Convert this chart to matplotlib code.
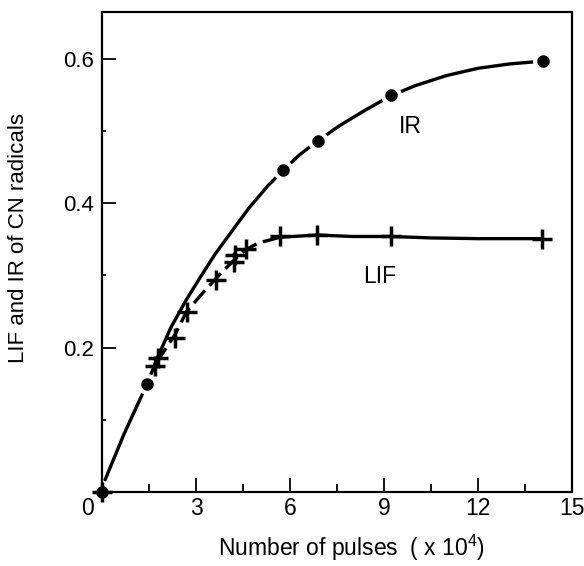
import matplotlib
matplotlib.use("Agg")
import matplotlib.pyplot as plt
import matplotlib.transforms as mtransforms
from matplotlib.ticker import MultipleLocator

plt.rcParams['font.family'] = ['Liberation Sans', 'DejaVu Sans']
plt.rcParams['mathtext.fontset'] = 'custom'
plt.rcParams['mathtext.rm'] = 'Liberation Sans'
plt.rcParams['mathtext.it'] = 'Liberation Sans'

# IR measured points (dots)
ir_x = [0.0, 1.43, 5.79, 6.90, 9.22, 14.09]
ir_y = [0.0, 0.149, 0.446, 0.486, 0.550, 0.597]
# IR fitted curve
ir_fit_x = [0.1, 0.7, 1.43, 1.79, 2.2, 2.7, 3.13, 3.6, 4.19, 4.7, 5.31, 5.79, 6.3, 6.9, 7.6, 8.4, 9.22, 10.0, 11.0, 12.0, 13.0, 14.09]
ir_fit_y = [0.017, 0.08, 0.149, 0.188, 0.228, 0.267, 0.297, 0.329, 0.364, 0.394, 0.425, 0.446, 0.467, 0.487, 0.508, 0.529, 0.549, 0.563, 0.577, 0.587, 0.593, 0.597]

# LIF measured points (crosses)
lif_x = [0.0, 1.70, 1.80, 2.33, 2.70, 3.64, 4.20, 4.26, 4.59, 5.68, 6.87, 9.22, 14.03]
lif_y = [0.0, 0.175, 0.186, 0.213, 0.250, 0.294, 0.318, 0.328, 0.336, 0.354, 0.356, 0.354, 0.351]
# LIF fitted curve
lif_fit_x = [1.75, 2.33, 2.70, 3.2, 3.64, 4.0, 4.26, 4.59, 5.0, 5.68, 6.87, 8.0, 9.22, 10.5, 12.0, 14.03]
lif_fit_y = [0.180, 0.218, 0.250, 0.275, 0.296, 0.312, 0.323, 0.336, 0.345, 0.353, 0.356, 0.354, 0.354, 0.352, 0.351, 0.351]

xticks = [0, 3, 6, 9, 12, 15]
xticklabels = ['0', '3', '6', '9', '12', '15']
yticks = [0.2, 0.4, 0.6]

fig = plt.figure(figsize=(5.84, 5.66), dpi=100)
ax = fig.add_axes([102/584, 1 - 492/566, 470/584, 480/566])

ax.plot(ir_fit_x, ir_fit_y, color='black', lw=2.4, zorder=2, solid_capstyle='round')
ax.plot(lif_fit_x[:10], lif_fit_y[:10], color='black', lw=2.4, dashes=(5, 2), zorder=2)
ax.plot(lif_fit_x[9:], lif_fit_y[9:], color='black', lw=2.4, zorder=2)

# white halos to make gaps around markers (skip origin point)
ax.plot(ir_x[1:], ir_y[1:], 'o', color='white', ms=14, zorder=3)
ax.plot(ir_x, ir_y, 'o', color='black', ms=8, zorder=4, clip_on=False)
ax.plot(lif_x, lif_y, '+', color='black', ms=14, mew=2.5, zorder=4, clip_on=False)

ax.text(9.85, 0.507, 'IR', fontsize=16.5, ha='center', va='center')
ax.text(8.85, 0.299, 'LIF', fontsize=16.5, ha='center', va='center')

ax.set_xlim(0, 15)
ax.set_ylim(0, 0.665)
ax.set_xticks(xticks)
ax.set_yticks(yticks)
ax.xaxis.set_minor_locator(MultipleLocator(1.5))
ax.yaxis.set_minor_locator(MultipleLocator(0.1))
ax.tick_params(which='major', direction='in', length=10, width=1.3, labelsize=16.5)
ax.tick_params(axis='y', which='major', labelsize=16, pad=6)
ax.tick_params(which='minor', direction='in', length=6, width=1.3)
ax.tick_params(axis='y', which='minor', length=3)
ax.tick_params(top=False, right=False, which='both')
ax.set_xticklabels(xticklabels)
lbl0 = ax.get_xticklabels()[0]
lbl0.set_transform(lbl0.get_transform() + mtransforms.ScaledTranslation(-14/100, 0, fig.dpi_scale_trans))
for s in ax.spines.values():
    s.set_linewidth(1.6)

ax.set_xlabel('Number of pulses  ( x 10$^4$)', fontsize=16.5)
ax.xaxis.set_label_coords(0.53, -0.085)
ax.set_ylabel('LIF and IR of CN radicals', fontsize=16)
ax.yaxis.set_label_coords(-0.155, 0.53)

fig.savefig('out.png', dpi=100)
